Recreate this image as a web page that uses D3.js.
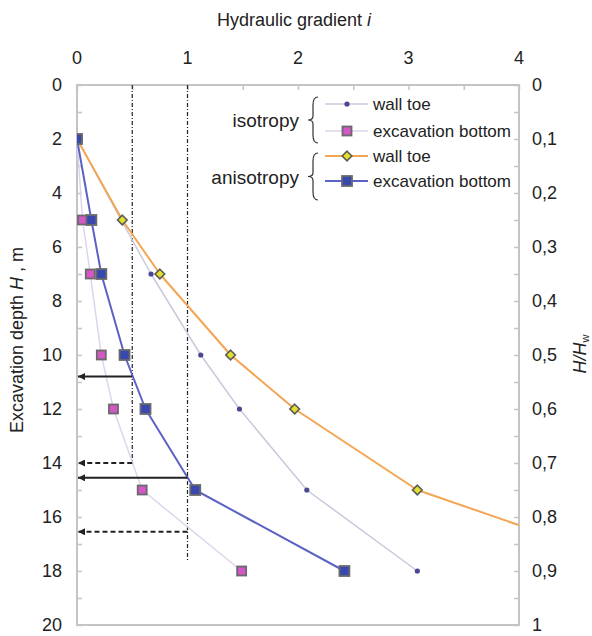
<!DOCTYPE html>
<html>
<head>
<meta charset="utf-8">
<script src="https://cdn.jsdelivr.net/npm/d3@7"></script>
<style>
  html, body { margin: 0; padding: 0; background: #fff; }
  svg { display: block; font-family: "Liberation Sans", Arial, sans-serif; }
</style>
</head>
<body>
<svg id="chart" width="592" height="636"></svg>
<script>
// ---------------- data ----------------
const depths        = [2, 5, 7, 10, 12, 15, 18];
const isoWallToe    = [0, 0.40, 0.67, 1.12, 1.47, 2.08, 3.08];
const isoExcBottom  = [0, 0.05, 0.12, 0.22, 0.33, 0.59, 1.49];
const anisoWallToe  = [0, 0.41, 0.75, 1.39, 1.97, 3.08, 5.20];
const anisoExcBottom= [0, 0.13, 0.22, 0.43, 0.62, 1.07, 2.42];

const xTicks = [0, 1, 2, 3, 4];
const yTicks = [0, 2, 4, 6, 8, 10, 12, 14, 16, 18, 20];
const rTicks = [0, 0.1, 0.2, 0.3, 0.4, 0.5, 0.6, 0.7, 0.8, 0.9, 1];

// reference gradient lines and arrows
const refLines     = [{ i: 0.5, hEnd: 14.0 }, { i: 1.0, hEnd: 17.6 }];
const solidArrows  = [{ i: 0.5, h: 10.8 }, { i: 1.0, h: 14.55 }];
const dashedArrows = [{ i: 0.5, h: 14.0 }, { i: 1.0, h: 16.55 }];

// ---------------- layout ----------------
const svg = d3.select("#chart");
const L = 77, R = 519, T = 85, B = 625;
const x = d3.scaleLinear().domain([0, 4]).range([L, R]);
const y = d3.scaleLinear().domain([0, 20]).range([T, B]);
const yr = d3.scaleLinear().domain([0, 1]).range([T, B]);

const axisColor = "#c4c4c4";
const FS = 18;

const defs = svg.append("defs");
defs.append("clipPath").attr("id", "clip")
  .append("rect").attr("x", L).attr("y", T).attr("width", R - L).attr("height", B - T);
defs.append("marker")
  .attr("id", "arrow").attr("viewBox", "0 0 10 10")
  .attr("refX", 10).attr("refY", 5)
  .attr("markerWidth", 4.5).attr("markerHeight", 3.5)
  .attr("orient", "auto")
  .append("path").attr("d", "M0,0 L10,5 L0,10 z").attr("fill", "#222");

// box
svg.append("rect").attr("x", L).attr("y", T).attr("width", R - L).attr("height", B - T)
  .attr("fill", "none").attr("stroke", axisColor).attr("stroke-width", 2);

// top axis ticks (inside)
const topAxis = d3.axisTop(x).tickValues(d3.range(0, 4.01, 0.5)).tickSize(-5).tickFormat("");
const gTop = svg.append("g").attr("transform", `translate(0,${T})`).call(topAxis);
gTop.select(".domain").remove();
gTop.selectAll("line").attr("stroke", axisColor).attr("stroke-width", 1.5);
svg.append("g").selectAll("text").data(xTicks).join("text")
  .attr("x", d => x(d)).attr("y", 64).attr("text-anchor", "middle")
  .attr("font-size", FS).attr("fill", "#222").text(d => d);

// left axis ticks (inside)
const leftAxis = d3.axisLeft(y).tickValues(d3.range(0, 20.01, 1)).tickSize(-5).tickFormat("");
const gLeft = svg.append("g").attr("transform", `translate(${L},0)`).call(leftAxis);
gLeft.select(".domain").remove();
gLeft.selectAll("line").attr("stroke", axisColor).attr("stroke-width", 1.5);
svg.append("g").selectAll("text").data(yTicks).join("text")
  .attr("x", 62).attr("y", d => y(d)).attr("dy", "0.33em").attr("text-anchor", "end")
  .attr("font-size", FS).attr("fill", "#222").text(d => d);

// right axis ticks (inside)
const rightAxis = d3.axisRight(yr).tickValues(d3.range(0, 1.001, 0.05)).tickSize(-5).tickFormat("");
const gRight = svg.append("g").attr("transform", `translate(${R},0)`).call(rightAxis);
gRight.select(".domain").remove();
gRight.selectAll("line").attr("stroke", axisColor).attr("stroke-width", 1.5);
svg.append("g").selectAll("text").data(rTicks).join("text")
  .attr("x", 532).attr("y", d => yr(d)).attr("dy", "0.33em").attr("text-anchor", "start")
  .attr("font-size", FS).attr("fill", "#222").text(d => d3.format(".1~f")(d).replace(".", ","));

// titles
const tTop = svg.append("text").attr("x", 294).attr("y", 26).attr("text-anchor", "middle")
  .attr("font-size", FS).attr("fill", "#222");
tTop.append("tspan").text("Hydraulic gradient ");
tTop.append("tspan").attr("font-style", "italic").text("i");

const tLeft = svg.append("text").attr("transform", `translate(23,340) rotate(-90)`)
  .attr("text-anchor", "middle").attr("font-size", FS).attr("fill", "#222");
tLeft.append("tspan").text("Excavation depth ");
tLeft.append("tspan").attr("font-style", "italic").text("H");
tLeft.append("tspan").text(" , m");

const tRight = svg.append("text").attr("transform", `translate(586,354) rotate(-90)`)
  .attr("text-anchor", "middle").attr("font-size", FS).attr("fill", "#222");
tRight.append("tspan").attr("font-style", "italic").text("H/H");
tRight.append("tspan").attr("font-size", 11).attr("dy", 3).text("w");

// reference lines
const plot = svg.append("g").attr("clip-path", "url(#clip)");
plot.selectAll(".ref").data(refLines).join("line")
  .attr("x1", d => x(d.i)).attr("x2", d => x(d.i))
  .attr("y1", T).attr("y2", d => y(d.hEnd))
  .attr("stroke", "#222").attr("stroke-width", 1.2).attr("stroke-dasharray", "4,2,1,2");

// arrows
svg.selectAll(".sarrow").data(solidArrows).join("line")
  .attr("x1", d => x(d.i)).attr("x2", L + 1)
  .attr("y1", d => y(d.h)).attr("y2", d => y(d.h))
  .attr("stroke", "#222").attr("stroke-width", 2).attr("marker-end", "url(#arrow)");
svg.selectAll(".darrow").data(dashedArrows).join("line")
  .attr("x1", d => x(d.i)).attr("x2", L + 1)
  .attr("y1", d => y(d.h)).attr("y2", d => y(d.h))
  .attr("stroke", "#222").attr("stroke-width", 2).attr("stroke-dasharray", "5,3")
  .attr("marker-end", "url(#arrow)");

// series
const series = [
  { vals: isoExcBottom, line: "#ddd5ea", width: 1.5, marker: "square", fill: "#d556c6", size: 9 },
  { vals: isoWallToe, line: "#c9c9dd", width: 1.5, marker: "dot", fill: "#4a4690", size: 2.6 },
  { vals: anisoWallToe, line: "#f4a553", width: 2, marker: "diamond", fill: "#e2e02a", size: 4.8 },
  { vals: anisoExcBottom, line: "#5b62c4", width: 2, marker: "square", fill: "#3848b0", size: 10 }
];

const lineGen = d3.line().x(d => x(d[0])).y(d => y(d[1]));

function drawMarker(g, s, px, py) {
  if (s.marker === "square") {
    g.append("rect").attr("x", px - s.size / 2).attr("y", py - s.size / 2)
      .attr("width", s.size).attr("height", s.size)
      .attr("fill", s.fill).attr("stroke", "#6a6a6a").attr("stroke-width", 1.8);
  } else if (s.marker === "dot") {
    g.append("circle").attr("cx", px).attr("cy", py).attr("r", s.size).attr("fill", s.fill);
  } else {
    const r = s.size;
    g.append("path").attr("d", `M${px},${py - r}L${px + r},${py}L${px},${py + r}L${px - r},${py}Z`)
      .attr("fill", s.fill).attr("stroke", "#5a5a5a").attr("stroke-width", 1.6);
  }
}

series.forEach(s => {
  const pts = depths.map((h, k) => [s.vals[k], h]);
  plot.append("path").datum(pts).attr("d", lineGen)
    .attr("fill", "none").attr("stroke", s.line).attr("stroke-width", s.width)
    .attr("stroke-linejoin", "round");
});
series.forEach(s => {
  const g = plot.append("g");
  depths.forEach((h, k) => {
    const xv = s.vals[k];
    if (xv <= 4) drawMarker(g, s, x(xv), y(h));
  });
});

// legend
const legendRows = [
  { s: series[1], label: "wall toe", y: 104 },
  { s: series[0], label: "excavation bottom", y: 131 },
  { s: series[2], label: "wall toe", y: 156 },
  { s: series[3], label: "excavation bottom", y: 181 }
];
const lg = svg.append("g");
legendRows.forEach(r => {
  lg.append("line").attr("x1", 325).attr("x2", 368).attr("y1", r.y).attr("y2", r.y)
    .attr("stroke", r.s.line).attr("stroke-width", r.s.width);
  drawMarker(lg, r.s, 347, r.y);
  lg.append("text").attr("x", 373).attr("y", r.y).attr("dy", "0.33em")
    .attr("font-size", 17).attr("fill", "#222").text(r.label);
});
const groups = [
  { label: "isotropy", y0: 97, y1: 143, ty: 121 },
  { label: "anisotropy", y0: 153, y1: 200, ty: 178 }
];
groups.forEach(gp => {
  const xm = 311, xe = 318, m = (gp.y0 + gp.y1) / 2;
  lg.append("path")
    .attr("d", `M${xe},${gp.y0} Q${xm + 2},${gp.y0} ${xm + 2},${gp.y0 + 8} L${xm + 2},${m - 4} Q${xm + 2},${m} ${xm - 3},${m} Q${xm + 2},${m} ${xm + 2},${m + 4} L${xm + 2},${gp.y1 - 8} Q${xm + 2},${gp.y1} ${xe},${gp.y1}`)
    .attr("fill", "none").attr("stroke", "#333").attr("stroke-width", 1.2);
  lg.append("text").attr("x", 299).attr("y", gp.ty).attr("dy", "0.33em").attr("text-anchor", "end")
    .attr("font-size", 19).attr("fill", "#222").text(gp.label);
});
</script>
</body>
</html>
